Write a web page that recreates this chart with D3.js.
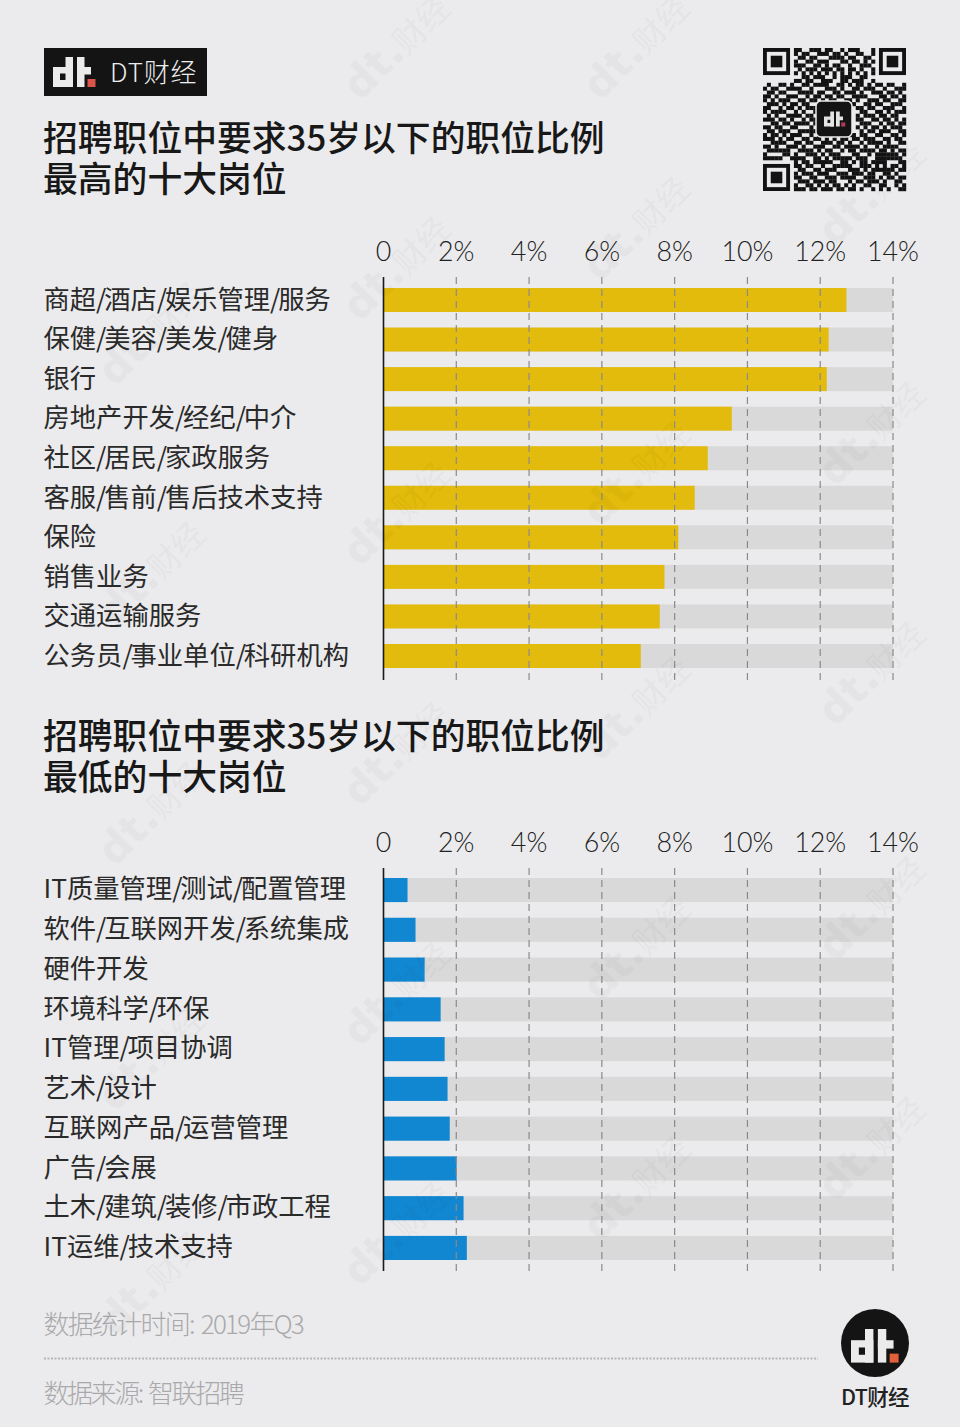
<!DOCTYPE html>
<html><head><meta charset="utf-8">
<script src="https://cdn.jsdelivr.net/npm/d3@7"></script>
<style>html,body{margin:0;padding:0;background:#ebebed}svg{display:block}</style>
</head><body><svg id="c" width="960" height="1427"></svg>
<script>
const titleA = ["招聘职位中要求35岁以下的职位比例","最高的十大岗位"];
const titleB = ["招聘职位中要求35岁以下的职位比例","最低的十大岗位"];
const categoriesHigh = ["商超/酒店/娱乐管理/服务","保健/美容/美发/健身","银行","房地产开发/经纪/中介","社区/居民/家政服务","客服/售前/售后技术支持","保险","销售业务","交通运输服务","公务员/事业单位/科研机构"];
const valuesHigh = [12.72,12.23,12.18,9.57,8.91,8.55,8.1,7.72,7.59,7.07];
const categoriesLow = ["IT质量管理/测试/配置管理","软件/互联网开发/系统集成","硬件开发","环境科学/环保","IT管理/项目协调","艺术/设计","互联网产品/运营管理","广告/会展","土木/建筑/装修/市政工程","IT运维/技术支持"];
const valuesLow = [0.66,0.88,1.13,1.57,1.68,1.76,1.82,2.01,2.2,2.29];
const ticks = [0,2,4,6,8,10,12,14];
const footnotes = ["数据统计时间: 2019年Q3","数据来源: 智联招聘"];
const brand = "DT财经";
const watermarkText = "财经";
const watermarkColumns = [
  [150,[350,590,830,1075,1300]],
  [395,[64,285,530,770,1010,1250]],
  [635,[64,245,490,725,965,1205]],
  [870,[210,450,690,925,1165]]
];
const qrRows = [
"0000000011001110110010111000100000000",
"0000000010110011101101001100100000000",
"0000000001101100011110110011000000000",
"0000000010011011100011011010100000000",
"0000000011100110101100100111000000000",
"0000000001011101110110110100100000000",
"0000000010101010101010101010100000000",
"0000000000110111001011100110000000000",
"0000000011011001110011011100100000000",
"0100110100110111100110101101011011001",
"1011001111001000111010011011100100111",
"0110110001111011001101110100111011010",
"1101001110010110110110011110001101101",
"1010111001101101011001101001110110011",
"0111010110110011100111010011011001110",
"1100101101011100000000001101100111001",
"1011110010100110000000000110011010111",
"0101001111011010000000001011101101100",
"1110110100101100000000001100110110101",
"0011011011110110000000000111001011011",
"1101100110001010000000001010110101110",
"0110111001111100000000000101101110011",
"1011010111001011011100110110011001101",
"1110101100110110101011011011100110110",
"0011110011011001110110100101111010011",
"1101001110100111001101111010010111100",
"0111111001111010110010110111101101011",
"1000011010011101011100011001011111101",
"1111100111100110101111101110011111110",
"0000000010110111110011010110111100011",
"0000000011011001001111100111010101101",
"0000000001100110111000111010111111011",
"0000000010111011100111011101100110100",
"0000000011001100111011110011101011011",
"0000000001110111011000101101110100110",
"0000000010011010101101010011001100101",
"0000000011101101110110110100101010011"
];

const svg = d3.select("#c");
const FONT = "'Noto Sans CJK SC','Noto Sans',sans-serif";
svg.append("rect").attr("width",960).attr("height",1427).attr("fill","#ebebed");

function logo(g,x,y,s,fg,red){
  const l=g.append("g").attr("transform",`translate(${x},${y}) scale(${s})`);
  const r=(a,b,w,h,f)=>l.append("rect").attr("x",a).attr("y",b).attr("width",w).attr("height",h).attr("fill",f);
  r(0,10,20,20,fg); r(12.5,0,7.5,30,fg); r(7,16.5,5.5,6.5,"#141414");
  r(24,0,7.5,30,fg); r(24,10,14,7.5,fg); r(34.5,22,8,8,red);
  return l;
}

// Header badge
svg.append("rect").attr("x",44).attr("y",48).attr("width",163).attr("height",48).attr("fill","#141414");
logo(svg,53,57,1,"#ebebeb","#d9554a");
svg.append("text").attr("x",110).attr("y",81.5).attr("font-family",FONT).attr("font-size",26).attr("font-weight",300).attr("letter-spacing",0.8).attr("fill","#eeeeee").text(brand);

// QR
const qr=svg.append("g").attr("transform","translate(763,48)");
const M=143/37;
const qrCell=[];
qrRows.forEach((row,r)=>row.split("").forEach((v,c)=>{if(v==="1")qrCell.push([r,c]);}));
qr.selectAll("rect.m").data(qrCell).join("rect").attr("class","m")
  .attr("x",d=>d[1]*M).attr("y",d=>d[0]*M).attr("width",M+.2).attr("height",M+.2).attr("fill","#121212");
[[0,0],[30,0],[0,30]].forEach(([c,r])=>{
  qr.append("rect").attr("x",(c+.5)*M).attr("y",(r+.5)*M).attr("width",6*M).attr("height",6*M).attr("fill","none").attr("stroke","#121212").attr("stroke-width",M);
  qr.append("rect").attr("x",(c+2)*M).attr("y",(r+2)*M).attr("width",3*M).attr("height",3*M).attr("fill","#121212");
});
qr.append("rect").attr("x",53).attr("y",53).attr("width",36).attr("height",36).attr("rx",5).attr("fill","#141414").attr("stroke","#ebebeb").attr("stroke-width",1.5);
logo(qr,61,63.5,.5,"#e4e4e4","#b23a5a");

// Panels
function panel(o){
  const x=d3.scaleLinear().domain([0,14]).range([383.5,893]);
  const y=d3.scaleBand().domain(o.cats).range(o.bandRange).paddingInner(0.394);
  const g=svg.append("g");
  o.title.forEach((t,i)=>g.append("text").attr("x",43).attr("y",o.titleY+i*41.5)
    .attr("font-family",FONT).attr("font-size",34.8).attr("font-weight",500).attr("fill","#181818").text(t));
  g.selectAll("rect.bg").data(o.cats).join("rect").attr("class","bg")
    .attr("x",x(0)).attr("y",d=>y(d)).attr("width",x(14)-x(0)).attr("height",y.bandwidth()).attr("fill","#d9d9d9");
  g.selectAll("rect.v").data(o.vals).join("rect").attr("class","v")
    .attr("x",x(0)).attr("y",(d,i)=>y(o.cats[i])).attr("width",d=>x(d)-x(0)).attr("height",y.bandwidth()).attr("fill",o.color);
  const axis=d3.axisTop(x).tickValues(ticks).tickSize(0).tickPadding(0).tickFormat(d=>d===0?"0":d+"%");
  const ag=g.append("g").attr("transform",`translate(-0.5,${o.labelY})`).call(axis);
  ag.select(".domain").remove();
  ag.selectAll("text").attr("font-family","Lato,sans-serif").attr("font-size",26.8).attr("font-weight",300).attr("fill","#222").attr("dy",0);
  g.selectAll("line.g").data(ticks).join("line").attr("class","g")
    .attr("x1",d=>x(d)).attr("x2",d=>x(d)).attr("y1",o.axisRange[0]).attr("y2",o.axisRange[1])
    .attr("stroke",d=>d===0?"#1a1a1a":"#8a8a8a").attr("stroke-width",d=>d===0?1.6:1.2)
    .attr("stroke-dasharray",d=>d===0?null:"7 5");
  const lab=g.selectAll("text.c").data(o.cats).join("text").attr("class","c").attr("x",43.5)
    .attr("y",d=>y(d)+y.bandwidth()/2+8.8+o.labelNudge)
    .attr("font-family",FONT).attr("font-size",26.3).attr("font-weight",400).attr("fill","#2a2a2a");
  lab.each(function(d){
    const t=d3.select(this);
    d.split(/(\/)/).forEach(part=>{
      const s=t.append("tspan").text(part);
      if(part==="/") s.attr("letter-spacing",-2.2);
    });
  });
}
panel({title:titleA,titleY:150.5,cats:categoriesHigh,vals:valuesHigh,color:"#e3bb0c",bandRange:[288,668],labelY:261,axisRange:[277,680],labelNudge:0});
panel({title:titleB,titleY:748.5,cats:categoriesLow,vals:valuesLow,color:"#1287d1",bandRange:[878,1260],labelY:852,axisRange:[868,1271],labelNudge:-0.5});

// Footer
const footSpacing=[-1.75,-2.45];
footnotes.forEach((t,i)=>svg.append("text").attr("x",43.5).attr("y",[1334,1403][i])
  .attr("font-family",FONT).attr("font-size",26).attr("font-weight",300).attr("letter-spacing",footSpacing[i]).attr("word-spacing",3).attr("fill","#a9a9ab").text(t));
svg.append("line").attr("x1",44).attr("x2",818).attr("y1",1358.5).attr("y2",1358.5)
  .attr("stroke","#b5b5b5").attr("stroke-width",2).attr("stroke-dasharray","2 1.5");
svg.append("circle").attr("cx",875).attr("cy",1343).attr("r",34).attr("fill","#141414");
logo(svg,851,1329,1.12,"#ebebeb","#e2603a");
svg.append("text").attr("x",875).attr("y",1405).attr("text-anchor","middle").attr("font-family",FONT)
  .attr("font-size",21.5).attr("font-weight",500).attr("letter-spacing",-.7).attr("fill","#222").text(brand);

// Watermarks: faint tint over the whole picture
const wm=svg.append("g").attr("fill","#000").attr("opacity",0.028).attr("font-family",FONT);
watermarkColumns.forEach(([xx,ys])=>ys.forEach(yy=>{
  const t=wm.append("text").attr("transform",`translate(${xx-35},${yy+38}) rotate(-45)`).attr("font-size",32);
  t.append("tspan").attr("font-weight",900).attr("font-size",42).attr("font-family","'DejaVu Sans',sans-serif").text("dt.");
  t.append("tspan").attr("font-weight",400).text(watermarkText);
}));
</script></body></html>
